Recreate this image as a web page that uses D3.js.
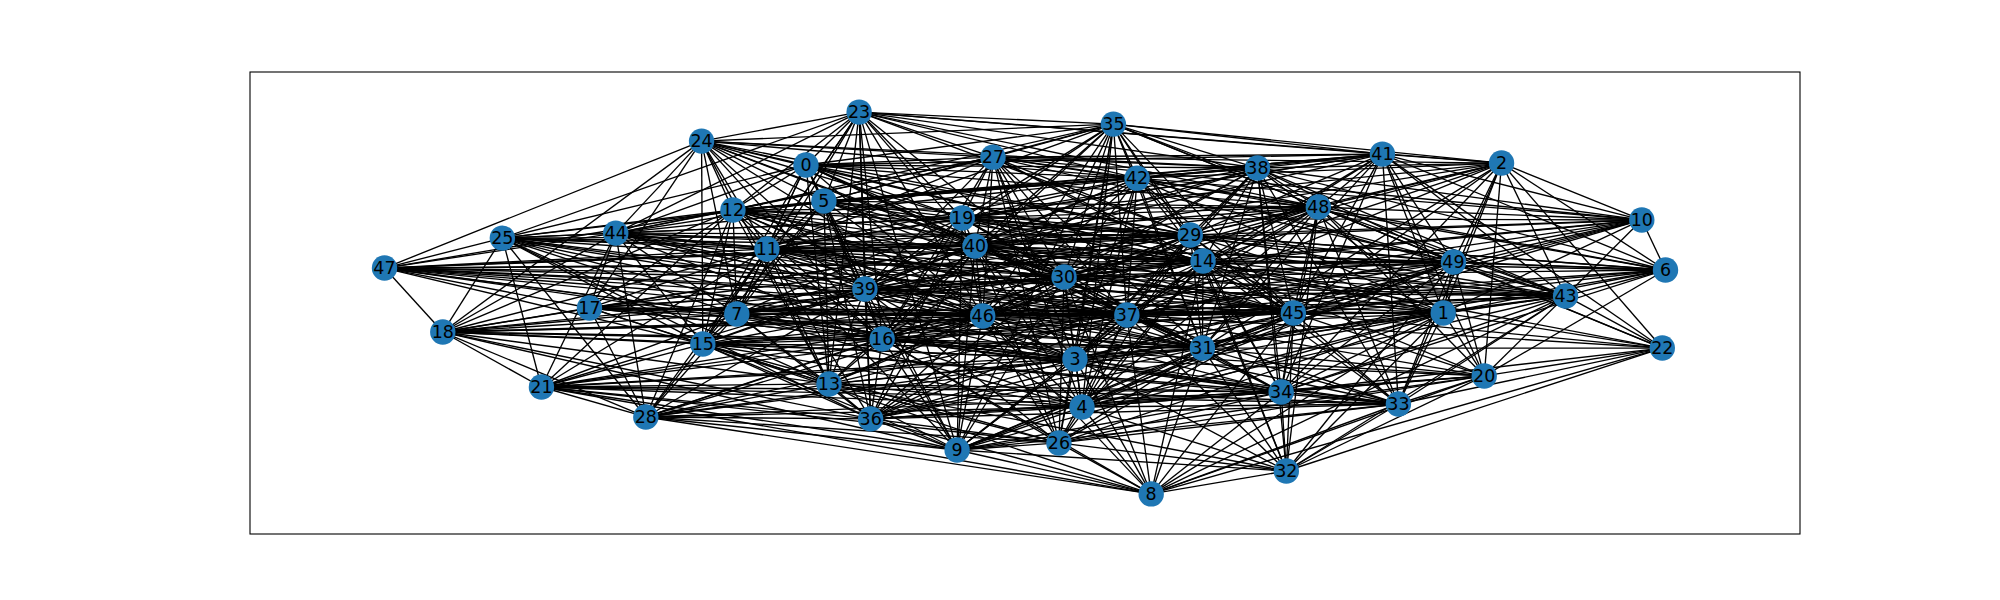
<!DOCTYPE html>
<html>
<head>
<meta charset="utf-8">
<script src="https://cdn.jsdelivr.net/npm/d3@7"></script>
<style>
  body { margin: 0; background: #fff; }
  svg { display: block; }
  text { font-family: "DejaVu Sans", sans-serif; }
</style>
</head>
<body>
<div class="draw"></div>
<script>
// layout positions (spring layout units), index = node id
var posX = [-0.342, 0.653, 0.744, 0.078, 0.089, -0.314, 1.000, -0.450, 0.197, -0.106,
            0.963, -0.403, -0.456, -0.306, 0.278, -0.503, -0.223, -0.680, -0.909, -0.098,
            0.717, -0.755, 0.995, -0.259, -0.505, -0.816, 0.053, -0.050, -0.592, 0.258,
            0.061, 0.277, 0.408, 0.583, 0.400, 0.138, -0.241, 0.159, 0.363, -0.250,
            -0.078, 0.558, 0.175, 0.844, -0.639, 0.419, -0.066, -1.000, 0.458, 0.669];
var posY = [0.723, -0.052, 0.733, -0.293, -0.545, 0.534, 0.173, -0.058, -1.000, -0.770,
            0.435, 0.283, 0.487, -0.424, 0.220, -0.215, -0.188, -0.026, -0.152, 0.445,
            -0.382, -0.440, -0.236, 1.000, 0.848, 0.340, -0.733, 0.764, -0.597, 0.356,
            0.136, -0.236, -0.880, -0.529, -0.466, 0.937, -0.607, -0.063, 0.707, 0.073,
            0.298, 0.780, 0.654, 0.037, 0.366, -0.052, -0.068, 0.183, 0.503, 0.215];

// neighbour lists (read per node, duplicates removed below)
var adjacency = [
  /* 0 */ [24, 23, 25, 12, 11, 7, 15, 5, 39, 16, 19, 40, 27, 35, 42, 38, 29, 48, 30, 46, 37, 14, 13, 31, 44, 41],
  /* 1 */ [2, 49, 10, 6, 43, 22, 20, 33, 34, 45, 31, 48, 41, 38, 29, 14, 42, 37, 30, 46, 40, 19, 39, 16, 7, 11, 17, 3, 4, 26, 8, 32, 9, 36],
  /* 2 */ [10, 6, 22, 43, 49, 1, 20, 41, 38, 48, 35, 27, 42, 29, 14, 45, 31, 37, 30, 40, 19, 23, 33, 34],
  /* 3 */ [47, 25, 18, 21, 44, 17, 28, 7, 15, 39, 16, 13, 36, 9, 40, 27, 30, 46, 35, 42, 38, 48, 29, 14, 37, 31, 45, 34, 33, 32, 49, 1, 43, 10, 20, 4, 26, 8],
  /* 4 */ [21, 28, 7, 15, 39, 16, 13, 36, 9, 40, 27, 30, 46, 35, 42, 48, 29, 14, 37, 31, 45, 34, 33, 32, 49, 1, 43, 20, 3, 26, 8],
  /* 5 */ [24, 23, 0, 25, 12, 11, 7, 15, 39, 16, 13, 36, 19, 40, 27, 35, 42, 38, 48, 29, 30, 46, 37, 14, 45, 41, 9, 44],
  /* 6 */ [10, 2, 43, 20, 49, 1, 41, 48, 45, 14, 29, 38, 42, 30, 40, 19, 31, 37, 46, 34],
  /* 7 */ [47, 25, 18, 21, 24, 44, 17, 28, 12, 11, 23, 0, 5, 15, 39, 16, 19, 40, 30, 46, 37, 31, 3, 45, 1, 13, 36, 29, 14, 34, 4],
  /* 8 */ [26, 4, 9, 36, 28, 3, 46, 37, 31, 34, 33, 20, 22, 1, 45, 32, 43, 30, 14, 16, 15, 21],
  /* 9 */ [21, 28, 18, 11, 15, 39, 16, 13, 36, 26, 4, 3, 46, 40, 19, 30, 37, 31, 34, 33, 32, 8, 45, 1, 20, 5, 23, 14],
  /* 10 */ [2, 6, 43, 1, 49, 45, 48, 41, 38, 29, 14, 30, 40, 19, 27, 31, 37, 46, 3, 42],
  /* 11 */ [47, 25, 18, 24, 44, 17, 28, 12, 0, 23, 5, 7, 15, 39, 16, 19, 40, 27, 29, 30, 46, 37, 31, 14, 45, 48, 1, 13, 36, 9, 43],
  /* 12 */ [24, 47, 25, 18, 21, 44, 17, 28, 0, 5, 11, 7, 15, 39, 16, 19, 40, 27, 29, 30, 46, 37, 31, 14, 42, 38, 48, 3, 13, 45],
  /* 13 */ [25, 18, 21, 28, 17, 12, 11, 7, 15, 0, 5, 23, 39, 16, 36, 9, 26, 4, 3, 46, 40, 30, 37, 31, 34, 33, 32, 29],
  /* 14 */ [47, 25, 44, 12, 11, 7, 0, 5, 39, 16, 36, 9, 19, 40, 27, 30, 46, 35, 42, 38, 41, 48, 29, 37, 31, 45, 34, 33, 32, 49, 1, 43, 10, 6, 2, 20, 22, 3, 4, 26, 8],
  /* 15 */ [47, 25, 18, 21, 24, 44, 17, 28, 12, 11, 7, 23, 0, 5, 39, 16, 40, 30, 46, 37, 31, 3, 4, 13, 36, 9, 26, 34, 33, 45],
  /* 16 */ [47, 25, 18, 21, 24, 44, 17, 28, 12, 11, 7, 15, 0, 5, 23, 39, 13, 36, 9, 26, 4, 3, 46, 40, 19, 30, 37, 31, 29, 14, 45, 34, 33, 1, 20, 42, 27],
  /* 17 */ [47, 18, 24, 28, 44, 12, 11, 7, 15, 39, 16, 46, 40, 30, 37, 31, 45, 29, 13, 3, 1],
  /* 18 */ [47, 25, 21, 24, 17, 44, 12, 11, 7, 15, 39, 16, 46, 40, 30, 37, 31, 3, 45, 13, 28, 36, 9],
  /* 19 */ [24, 25, 44, 12, 11, 7, 0, 5, 23, 39, 16, 36, 9, 27, 40, 35, 42, 38, 41, 48, 29, 14, 30, 46, 37, 31, 45, 49, 1, 43, 2, 10, 6],
  /* 20 */ [2, 49, 1, 43, 6, 22, 33, 34, 32, 8, 45, 31, 48, 41, 14, 37, 3, 4, 26, 16, 9, 36],
  /* 21 */ [25, 18, 12, 44, 28, 15, 7, 16, 13, 36, 9, 4, 3, 31, 26, 46, 39, 37, 34, 11, 33],
  /* 22 */ [2, 43, 49, 1, 20, 33, 32, 8, 34, 45, 31, 48, 41, 14, 37],
  /* 23 */ [24, 0, 5, 12, 11, 7, 15, 39, 16, 36, 13, 25, 27, 35, 42, 38, 41, 2, 48, 19, 40, 29, 46, 30, 44, 9],
  /* 24 */ [47, 18, 23, 0, 12, 11, 5, 7, 17, 44, 19, 27, 40, 39, 16, 29, 42, 38, 30, 46, 15, 13, 14],
  /* 25 */ [47, 18, 21, 12, 44, 11, 5, 0, 19, 40, 29, 14, 30, 39, 7, 15, 16, 46, 36, 13, 28, 3, 23],
  /* 26 */ [21, 28, 15, 39, 16, 13, 36, 9, 40, 27, 30, 46, 35, 14, 37, 31, 45, 34, 33, 32, 1, 20, 3, 4, 8],
  /* 27 */ [24, 44, 12, 11, 0, 5, 23, 39, 16, 19, 40, 35, 42, 38, 41, 2, 48, 29, 14, 30, 46, 37, 31, 45, 49, 10, 3, 4, 26],
  /* 28 */ [21, 17, 25, 18, 44, 15, 7, 12, 11, 39, 16, 13, 36, 9, 26, 4, 3, 31, 8, 34, 46, 30, 37],
  /* 29 */ [47, 25, 44, 17, 12, 11, 7, 0, 5, 23, 39, 16, 13, 36, 19, 40, 27, 30, 46, 35, 42, 38, 41, 48, 14, 37, 31, 45, 34, 33, 49, 1, 43, 10, 6, 2, 3, 4],
  /* 30 */ [47, 25, 18, 44, 17, 28, 12, 11, 7, 15, 0, 5, 23, 39, 16, 13, 36, 9, 19, 40, 27, 35, 42, 38, 48, 29, 14, 46, 3, 4, 26, 37, 31, 45, 34, 49, 1, 43, 10, 6, 8],
  /* 31 */ [47, 18, 21, 44, 17, 28, 12, 11, 7, 15, 0, 39, 16, 13, 36, 9, 19, 40, 27, 30, 46, 35, 42, 38, 41, 48, 29, 14, 37, 45, 34, 33, 32, 49, 1, 43, 6, 20, 22, 3, 4, 26, 8],
  /* 32 */ [34, 33, 20, 22, 43, 1, 49, 31, 45, 8, 26, 4, 9, 13, 3, 37, 14, 29, 48],
  /* 33 */ [20, 22, 43, 49, 1, 34, 32, 8, 45, 31, 48, 41, 38, 29, 14, 37, 3, 4, 26, 16, 9, 36, 13, 15, 21],
  /* 34 */ [33, 32, 8, 31, 45, 1, 49, 20, 22, 43, 48, 38, 14, 29, 37, 3, 4, 26, 9, 36, 13, 16, 15, 7, 28, 21, 30, 6],
  /* 35 */ [0, 5, 23, 24, 12, 11, 27, 19, 40, 42, 38, 41, 2, 48, 29, 14, 30, 46, 37, 31, 45, 49, 43, 39, 16, 3, 4, 26, 9],
  /* 36 */ [21, 28, 18, 11, 15, 5, 23, 39, 16, 13, 9, 26, 4, 3, 46, 40, 19, 30, 37, 31, 34, 33, 45, 29, 14, 1, 20, 8],
  /* 37 */ [47, 25, 18, 21, 44, 17, 28, 12, 11, 7, 15, 0, 5, 39, 16, 13, 36, 9, 19, 40, 27, 30, 46, 35, 42, 38, 48, 29, 14, 31, 45, 34, 33, 32, 49, 1, 43, 10, 6, 20, 22, 3, 4, 26, 8],
  /* 38 */ [24, 12, 0, 5, 23, 27, 19, 40, 35, 42, 41, 48, 2, 10, 6, 49, 1, 43, 45, 31, 14, 29, 30, 37, 46, 33, 34, 32, 3, 39],
  /* 39 */ [47, 25, 18, 21, 24, 44, 17, 28, 12, 11, 7, 15, 0, 5, 23, 16, 13, 36, 9, 19, 40, 27, 30, 46, 3, 4, 26, 37, 31, 29, 14, 42, 35, 45, 48, 1, 43, 49],
  /* 40 */ [47, 25, 18, 24, 44, 17, 12, 11, 7, 15, 0, 5, 23, 39, 16, 13, 36, 9, 19, 27, 35, 42, 38, 41, 48, 29, 14, 30, 46, 3, 4, 26, 37, 31, 45, 49, 1, 43, 10, 6],
  /* 41 */ [35, 23, 0, 5, 27, 19, 40, 42, 38, 48, 2, 10, 6, 49, 1, 43, 45, 31, 14, 29, 37, 33, 34, 20, 22, 11, 12],
  /* 42 */ [0, 5, 23, 24, 12, 11, 44, 27, 19, 40, 35, 38, 41, 48, 2, 10, 6, 49, 1, 43, 29, 14, 30, 46, 37, 31, 45, 39, 16, 3, 4],
  /* 43 */ [10, 6, 22, 2, 49, 1, 20, 33, 34, 45, 31, 48, 41, 38, 29, 14, 42, 35, 37, 30, 46, 40, 19, 39, 11, 47, 3, 4, 8, 32],
  /* 44 */ [47, 24, 25, 17, 18, 21, 28, 15, 7, 12, 11, 39, 16, 40, 19, 29, 30, 46, 37, 31, 14, 45, 42, 27, 3],
  /* 45 */ [47, 18, 44, 17, 12, 11, 7, 15, 5, 39, 16, 36, 9, 19, 40, 27, 30, 46, 35, 42, 38, 41, 48, 29, 14, 37, 31, 34, 33, 32, 49, 1, 43, 10, 6, 2, 20, 22, 3, 4, 26, 8],
  /* 46 */ [47, 25, 18, 21, 24, 44, 17, 28, 12, 11, 7, 15, 0, 5, 23, 39, 16, 13, 36, 9, 19, 40, 27, 30, 35, 42, 38, 48, 29, 14, 37, 31, 45, 34, 33, 49, 1, 43, 10, 6, 3, 4, 26, 8],
  /* 47 */ [24, 25, 18, 44, 12, 11, 17, 7, 15, 39, 16, 46, 40, 30, 29, 14, 37, 45, 49, 43, 31, 3],
  /* 48 */ [12, 11, 0, 5, 23, 39, 27, 19, 40, 35, 42, 38, 41, 2, 10, 6, 49, 1, 43, 45, 31, 14, 29, 30, 37, 46, 33, 34, 20, 22, 32, 3, 4],
  /* 49 */ [2, 41, 10, 6, 43, 1, 20, 22, 33, 34, 45, 31, 48, 38, 29, 14, 42, 35, 27, 37, 30, 46, 40, 19, 39, 47, 3, 4, 9, 32]
];

var size = { w: 2000, h: 600, r: 12.7 };
var frame = { left: 250, right: 1800, top: 72, bottom: 534 };

var nodes = posX.map(function(x, i) { return { id: i, x: x, y: posY[i] }; });

var seen = {};
var links = [];
adjacency.forEach(function(list, s) {
  list.forEach(function(t) {
    var key = Math.min(s, t) + '-' + Math.max(s, t);
    if (s === t || seen[key]) return;
    seen[key] = true;
    links.push({ source: nodes[s], target: nodes[t] });
  });
});

var x = d3.scaleLinear().domain([-1.21, 1.21]).range([frame.left, frame.right]);
var y = d3.scaleLinear().domain([-1.21, 1.21]).range([frame.bottom, frame.top]);

var svg = d3.select('.draw').append('svg')
  .attr('width', size.w)
  .attr('height', size.h)
  .attr('viewBox', [0, 0, size.w, size.h].join(' '));

svg.append('rect')
  .attr('width', size.w).attr('height', size.h)
  .attr('fill', '#ffffff');

svg.append('rect')
  .attr('x', frame.left).attr('y', frame.top)
  .attr('width', frame.right - frame.left)
  .attr('height', frame.bottom - frame.top)
  .attr('fill', 'none')
  .attr('stroke', '#000')
  .attr('stroke-width', 1.1);

svg.append('g').attr('class', 'edges')
  .selectAll('line').data(links).enter().append('line')
  .attr('x1', function(d) { return x(d.source.x); })
  .attr('y1', function(d) { return y(d.source.y); })
  .attr('x2', function(d) { return x(d.target.x); })
  .attr('y2', function(d) { return y(d.target.y); })
  .attr('stroke', '#000')
  .attr('stroke-width', 1.35);

var node = svg.append('g').attr('class', 'nodes')
  .selectAll('g').data(nodes).enter().append('g')
  .attr('transform', function(d) { return 'translate(' + [x(d.x), y(d.y)].join(',') + ')'; });

node.append('circle')
  .attr('r', size.r)
  .attr('fill', '#1f77b4');

node.append('text')
  .attr('text-anchor', 'middle')
  .attr('dy', '0.36em')
  .attr('font-size', '17.5px')
  .attr('fill', '#000')
  .text(function(d) { return d.id; });
</script>
</body>
</html>
